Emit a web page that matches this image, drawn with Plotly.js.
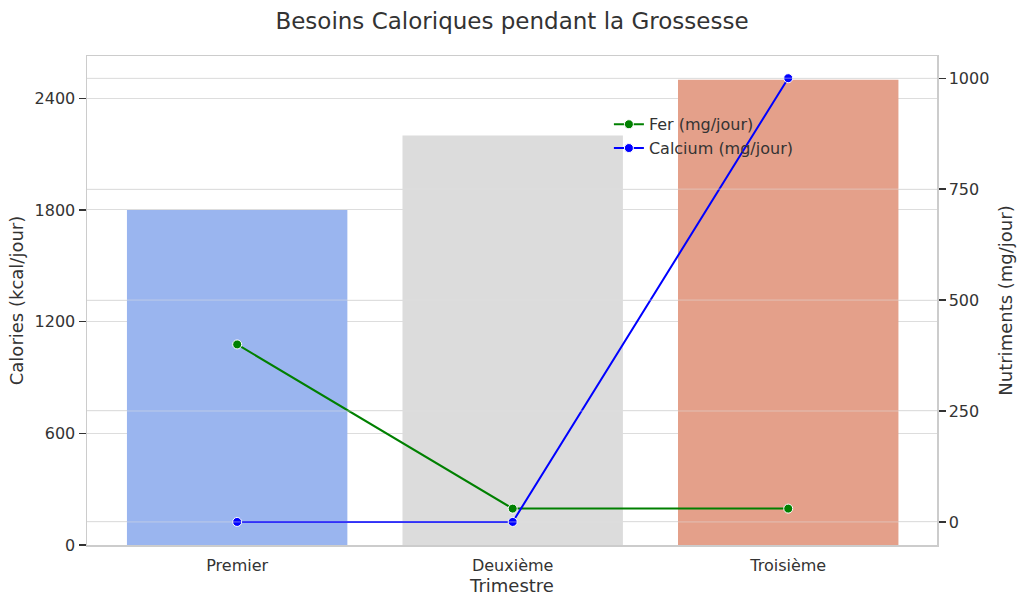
<!DOCTYPE html>
<html>
<head>
<meta charset="utf-8">
<script src="https://cdn.plot.ly/plotly-3.0.1.min.js"></script>
<style>html,body{margin:0;padding:0;background:#fff;}#chart{width:1024px;height:607px;}</style>
</head>
<body>
<div id="chart"></div>
<script>
const trimestres = ["Premier", "Deuxième", "Troisième"];
const calories = [1800, 2200, 2500];
const fer = [400, 30, 30];
const calcium = [0, 0, 1000];
const barColors = ["#9ab5ef", "#dcdcdc", "#e4a08a"];
const leftTicks = [0, 600, 1200, 1800, 2400];
const rightTicks = [0, 250, 500, 750, 1000];

const font = "DejaVu Sans, sans-serif";
const txt = "#333333";

const traces = [
  {
    type: "bar", x: trimestres, y: calories, marker: {color: barColors, line: {width: 0}},
    width: 0.8, showlegend: false, xaxis: "x", yaxis: "y", hoverinfo: "skip"
  },
  {
    type: "scatter", mode: "lines+markers", name: "Fer (mg/jour)", x: trimestres, y: fer,
    line: {color: "#008000", width: 2}, marker: {color: "#008000", size: 9, line: {color: "#ffffff", width: 1}},
    xaxis: "x", yaxis: "y2"
  },
  {
    type: "scatter", mode: "lines+markers", name: "Calcium (mg/jour)", x: trimestres, y: calcium,
    line: {color: "#0000ff", width: 2}, marker: {color: "#0000ff", size: 9, line: {color: "#ffffff", width: 1}},
    xaxis: "x", yaxis: "y2"
  }
];

const shapes = rightTicks.map(v => ({
  type: "line", xref: "paper", x0: 0, x1: 1, yref: "y2", y0: v, y1: v,
  line: {color: "rgba(225,225,225,0.5)", width: 1}, layer: "above"
}));

const layout = {
  width: 1024, height: 607,
  margin: {l: 87, r: 87, t: 56, b: 62},
  paper_bgcolor: "#ffffff", plot_bgcolor: "#ffffff",
  font: {family: font, color: txt, size: 16},
  title: {text: "Besoins Caloriques pendant la Grossesse", x: 0.5, xanchor: "center", y: 0.965, yanchor: "middle",
          font: {family: font, size: 23, color: txt}},
  xaxis: {
    type: "category", range: [-0.545, 2.54],
    title: {text: "Trimestre", font: {size: 18, color: txt}, standoff: 5},
    tickfont: {size: 16, color: txt},
    showgrid: false, showline: true, linecolor: "#cccccc", linewidth: 1.5, mirror: true,
    ticks: "outside", ticklen: 5, tickcolor: "rgba(0,0,0,0)"
  },
  yaxis: {
    range: [0, 2627], tickvals: leftTicks, ticktext: leftTicks.map(String),
    title: {text: "Calories (kcal/jour)", font: {size: 18, color: txt}, standoff: 6},
    tickfont: {size: 16, color: txt},
    showgrid: true, gridcolor: "#dddddd", gridwidth: 1, zeroline: false,
    showline: true, linecolor: "#cccccc", linewidth: 1.5, mirror: true,
    ticks: "outside", ticklen: 7, tickwidth: 1.3, tickcolor: "#333333"
  },
  yaxis2: {
    overlaying: "y", side: "right", range: [-52, 1050],
    tickvals: rightTicks, ticktext: rightTicks.map(String),
    title: {text: "Nutriments (mg/jour)", font: {size: 18, color: txt}, standoff: 11},
    tickfont: {size: 16, color: txt},
    showgrid: true, gridcolor: "#dddddd", gridwidth: 1, zeroline: false,
    showline: true, linecolor: "#cccccc", linewidth: 1.5,
    ticks: "outside", ticklen: 7, tickwidth: 1.3, tickcolor: "#333333"
  },
  legend: {
    x: 0.614, y: 0.895, xanchor: "left", yanchor: "top",
    bgcolor: "rgba(0,0,0,0)", borderwidth: 0,
    font: {size: 16, color: txt}, tracegroupgap: 0, itemwidth: 30
  },
  shapes: shapes,
  showlegend: true
};

Plotly.newPlot("chart", traces, layout, {displayModeBar: false, staticPlot: true});
</script>
</body>
</html>
